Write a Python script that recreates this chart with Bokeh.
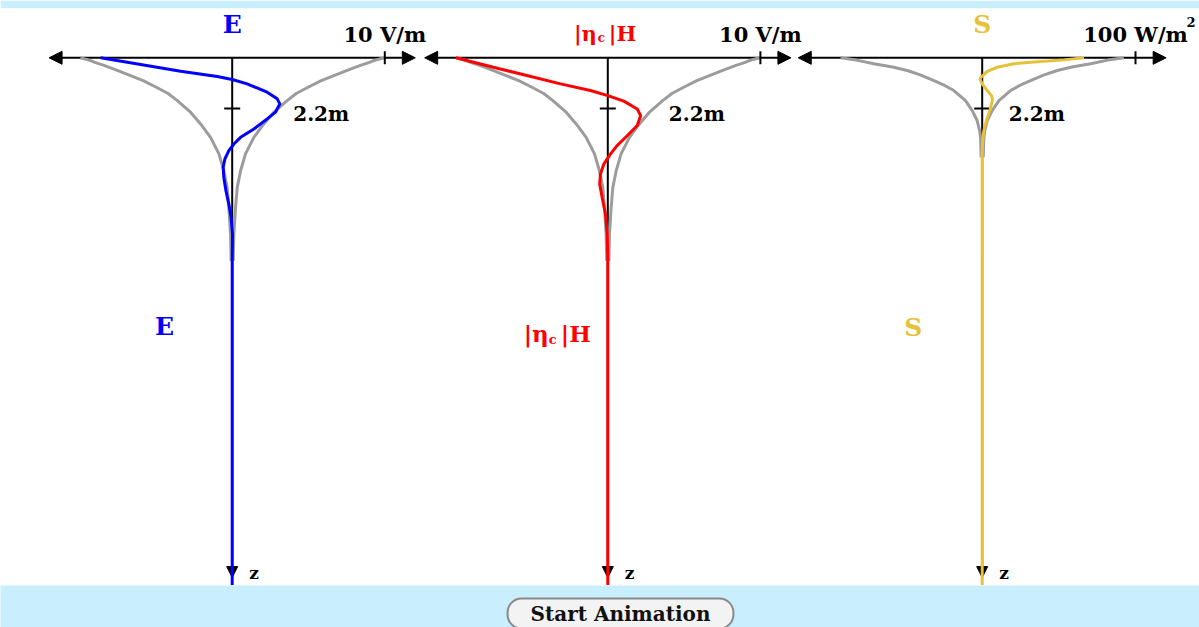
import math

from bokeh.core.properties import value
from bokeh.embed import file_html
from bokeh.layouts import column
from bokeh.models import Arrow, Label, NormalHead, Range1d
from bokeh.plotting import figure
from bokeh.resources import INLINE

# ---------------------------------------------------------------------------
# Field profiles versus depth z (m) below the surface of a lossy medium
# ---------------------------------------------------------------------------
# envelope of E and |eta_c|H (V/m)
env_depth = [0, 0.06, 0.14, 0.22, 0.33, 0.5, 0.77, 1.0, 1.30, 1.55, 1.86, 2.36, 2.87,
             3.45, 4.17, 4.90, 5.62, 6.49, 7.65, 8.81]
env_field = [9.95, 9.6, 9.2, 8.9, 8.4, 7.7, 6.66, 5.8, 4.91, 4.2, 3.6, 2.73, 2.07,
             1.42, 0.87, 0.55, 0.33, 0.22, 0.11, 0.07]

# instantaneous E (V/m)
e_depth = [0, 0.29, 0.58, 0.81, 0.94, 1.13, 1.49, 1.78, 2.0, 2.36, 2.65, 3.09, 3.45,
           3.74, 4.03, 4.39, 4.75, 5.19, 5.77, 6.35, 6.93, 7.65, 8.81, 23.0]
e_field = [-8.62, -6.0, -3.38, -0.98, 0, 0.98, 2.29, 2.95, 3.12, 2.84, 2.29, 1.42, 0.55,
           0.11, -0.22, -0.48, -0.59, -0.55, -0.41, -0.22, -0.07, 0.02, 0, 0]

# instantaneous |eta_c|H (V/m)
h_depth = [0, 0.41, 0.77, 1.13, 1.42, 1.64, 1.88, 2.22, 2.51, 2.94, 3.38, 3.81, 4.17,
           4.61, 5.04, 5.48, 6.06, 6.78, 7.65, 8.81, 23.0]
h_field = [-9.95, -7.5, -5.3, -3.1, -1.14, 0, 1.05, 1.93, 2.15, 1.93, 1.27, 0.61, 0.18,
           -0.26, -0.48, -0.53, -0.37, -0.15, -0.04, 0, 0]

# envelope of the Poynting vector (W/m^2)
s_env_depth = [0, 0.1, 0.26, 0.4, 0.55, 0.75, 0.99, 1.2, 1.42, 1.86, 2.29, 2.72, 3.16, 3.45, 4.32]
s_env_power = [92.4, 82.0, 70.7, 58.5, 48.9, 40.0, 31.5, 24.5, 18.5, 10.9, 6.5, 3.3, 1.7, 1.1, 0.65]

# instantaneous S (W/m^2)
s_depth = [0, 0.09, 0.19, 0.26, 0.41, 0.59, 0.84, 0.91, 1.13, 1.42, 1.64, 1.81, 2.29,
           2.72, 3.15, 3.51, 4.1, 23.0]
s_power = [66.4, 53.3, 31.6, 20.7, 9.8, 3.3, -0.65, -1.5, 0, 3.3, 6.1, 6.7, 5.0,
           2.8, 1.1, 0.4, 0, 0]

# scale marks
field_tick = 10          # V/m
power_tick = 100         # W/m^2
depth_tick = 2.2         # m
field_axis_half = 12     # V/m, extent of the horizontal axis
power_axis_half = 120    # W/m^2
z_axis_end = 22.55       # m, tip of the depth axis
field_unit = "10 V/m"
power_unit = "100 W/m"
depth_label = "2.2m"

# ---------------------------------------------------------------------------
# page geometry
# ---------------------------------------------------------------------------
W = 1199
H_MAIN = 585
H_BTN = 42
TOP_PAD = 8
SURFACE_PX = 57.3        # page row of z = 0
PX_PER_M = 23.05
PX_PER_FIELD = 15.26     # px per V/m
PX_PER_POWER = 1.533     # px per W/m^2
CENTER_E, CENTER_H, CENTER_S = 231.7, 607.3, 981.7

BG = "#c9eefd"
GRAY = "#9c9c9c"
BLUE = "#0000ff"
RED = "#ff0000"
GOLD = "#e6c13c"
FONT = "DejaVu Serif"


def x_range(center, scale):
    return Range1d(-center / scale, (W - center) / scale)


z_top = (TOP_PAD - SURFACE_PX) / PX_PER_M
z_bottom = (H_MAIN - SURFACE_PX) / PX_PER_M

p = figure(
    width=W, height=H_MAIN,
    x_range=x_range(CENTER_E, PX_PER_FIELD),
    y_range=Range1d(z_bottom, z_top),
    x_axis_location=None, y_axis_location=None,
    output_backend="svg", toolbar_location=None,
    min_border=0, min_border_top=TOP_PAD,
    border_fill_color=BG, background_fill_color="white",
    outline_line_color=None,
)
p.extra_x_ranges = {
    "h": x_range(CENTER_H, PX_PER_FIELD),
    "s": x_range(CENTER_S, PX_PER_POWER),
}
p.xgrid.grid_line_color = None
p.ygrid.grid_line_color = None


def txt(rng, x, y, s, color, size, align="center", dx=0):
    p.text(x=[x], y=[y], text=[s], text_color=color,
           text_font=value(FONT), text_font_style="bold",
           text_font_size=size, text_align=align, text_baseline="middle",
           x_offset=dx, x_range_name=rng)


def head(size):
    return NormalHead(size=size, fill_color="black", line_color="black", line_width=1)


def panel(rng, env_z, env_v, cur_z, cur_v, color, half, tick, unit, lbl_x):
    # decaying envelope on both sides
    p.line(env_v, env_z, line_color=GRAY, line_width=3, x_range_name=rng)
    p.line([-v for v in env_v], env_z, line_color=GRAY, line_width=3, x_range_name=rng)

    # horizontal axis with arrowheads at both ends
    p.add_layout(Arrow(
        start=head(13), end=head(13),
        x_start=-half, y_start=0, x_end=half, y_end=0,
        line_color="black", line_width=2, x_range_name=rng, level="underlay"))
    # depth axis pointing down
    p.add_layout(Arrow(
        end=head(11),
        x_start=0, y_start=0, x_end=0, y_end=z_axis_end,
        line_color="black", line_width=2, x_range_name=rng, level="underlay"))

    # scale ticks
    p.scatter([tick], [0], marker="dash", angle=math.pi / 2, size=13,
              line_color="black", line_width=2, x_range_name=rng)
    p.scatter([0], [depth_tick], marker="dash", size=16,
              line_color="black", line_width=2, x_range_name=rng)

    # instantaneous profile
    p.line(cur_v, cur_z, line_color=color, line_width=3, x_range_name=rng)

    txt(rng, tick, -1.0, unit, "black", "21px")
    txt(rng, lbl_x, 2.42, depth_label, "black", "20px", align="left")
    txt(rng, 0, 22.33, "z", "black", "17px", align="left", dx=17)


panel("default", env_depth, env_field, e_depth, e_field, BLUE,
      field_axis_half, field_tick, field_unit, 4.0)
panel("h", env_depth, env_field, h_depth, h_field, RED,
      field_axis_half, field_tick, field_unit, 4.0)
panel("s", s_env_depth, s_env_power, s_depth, s_power, GOLD,
      power_axis_half, power_tick, power_unit, 17.4)

# superscript of W/m^2
txt("s", power_tick, -1.54, "2", "black", "13px", align="left", dx=51)

# titles above each panel
txt("default", 0, -1.44, "E", BLUE, "25px")
txt("s", 0, -1.44, "S", GOLD, "25px")
txt("h", 0, -1.07, "|\u03b7", RED, "21px", align="right", dx=-11)
txt("h", 0, -0.84, "c", RED, "12px", align="left", dx=-10)
txt("h", 0, -1.07, "|H", RED, "21px", align="left", dx=1)

# labels beside the depth axes
txt("default", 0, 11.67, "E", BLUE, "25px", dx=-67.7)
txt("s", 0, 11.72, "S", GOLD, "25px", dx=-69)
txt("h", 0, 11.94, "|\u03b7", RED, "23px", align="right", dx=-59)
txt("h", 0, 12.22, "c", RED, "13px", align="left", dx=-59)
txt("h", 0, 11.94, "|H", RED, "23px", align="left", dx=-47)

# control strip with the animation button
b = figure(
    width=W, height=H_BTN,
    x_range=Range1d(0, W), y_range=Range1d(0, H_BTN),
    x_axis_location=None, y_axis_location=None,
    output_backend="svg", toolbar_location=None,
    min_border=0, border_fill_color=BG, background_fill_color=BG,
    outline_line_color=None,
)
b.xgrid.grid_line_color = None
b.ygrid.grid_line_color = None
b.add_layout(Label(
    x=620, y=14, text="Start Animation",
    text_align="center", text_baseline="middle",
    text_font=FONT, text_font_style="bold", text_font_size="20px",
    text_color="#111111",
    background_fill_color="#f3f3f3",
    border_line_color="#8a8a8a", border_line_width=2,
    padding=(23, 3), border_radius=14,
))

layout = column(p, b, spacing=0)
open("out.html", "w").write(file_html(layout, INLINE))
